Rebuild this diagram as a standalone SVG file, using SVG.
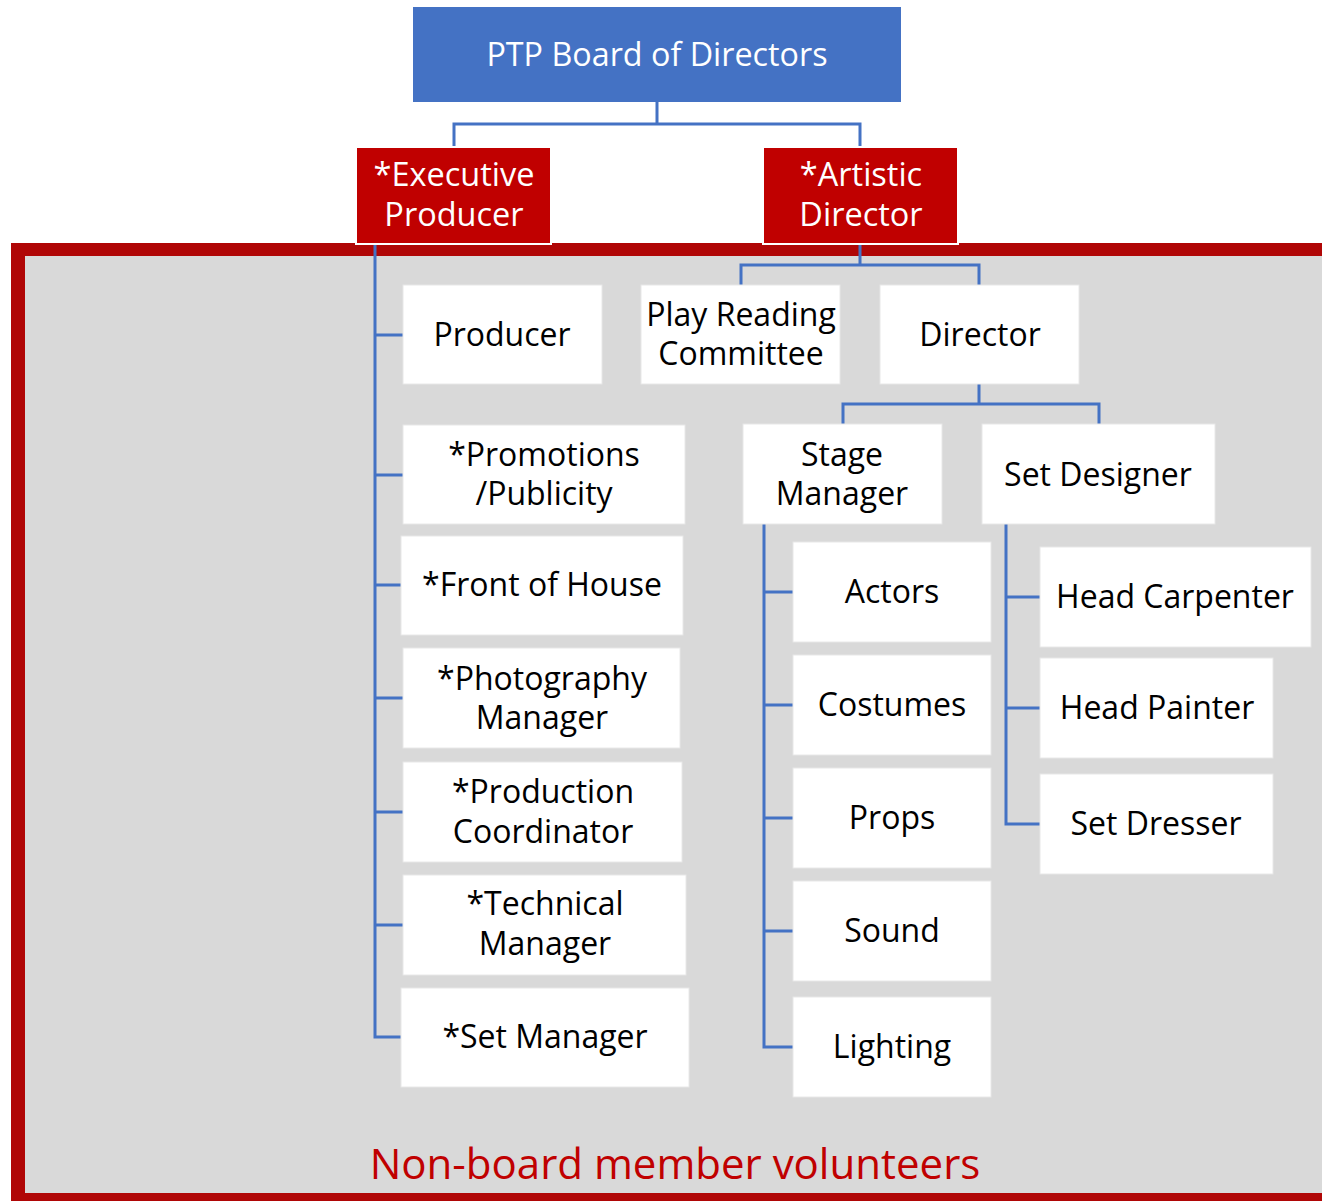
<svg xmlns="http://www.w3.org/2000/svg" width="1322" height="1201" viewBox="0 0 1322 1201">
<style>
text{font-family:"Open Sans","Noto Sans","DejaVu Sans",sans-serif;text-anchor:middle;}
.n rect{fill:#ffffff;stroke:#e8e8e8;stroke-width:1;}
.n text{font-size:32px;fill:#000;}
.r rect{fill:#C00000;stroke:#ffffff;stroke-width:2;}
.r text{font-size:32.5px;fill:#fff;}
.c{fill:none;stroke:#4472C4;stroke-width:3;}
</style>
<rect x="11" y="243" width="1320" height="958" fill="#B00606"/>
<rect x="25" y="256" width="1305" height="937" fill="#D9D9D9"/>
<text x="675" y="1179" font-size="42" fill="#C00000">Non-board member volunteers</text>
<g id="connectors" class="c">
<path d="M657,102 V124 M454,147 V124 H860 V147"/>
<path d="M375,244 V1037 H403 M375,335 H403 M375,475 H403 M375,585 H401 M375,698 H403 M375,812 H403 M375,925 H403"/>
<path d="M860,244 V265 M741,285 V265 H979 V285"/>
<path d="M979,384 V404 M843,424 V404 H1099 V424"/>
<path d="M764,524 V1047 H793 M764,592 H793 M764,705 H793 M764,818 H793 M764,931 H793"/>
<path d="M1006,524 V824 H1040 M1006,597 H1040 M1006,708 H1040"/>
</g>
<g id="board"><rect x="413" y="7" width="488" height="95" fill="#4472C4"/><text x="657" y="66" font-size="32.3" fill="#fff">PTP Board of Directors</text></g>
<g id="exec" class="r"><rect x="356" y="147" width="195" height="97"/><text x="454" y="186">*Executive</text><text x="454" y="226">Producer</text></g>
<g id="artistic" class="r"><rect x="763" y="147" width="195" height="97"/><text x="861" y="186">*Artistic</text><text x="861" y="226">Director</text></g>
<g id="producer" class="n"><rect x="403" y="285" width="199" height="99"/><text x="502" y="346">Producer</text></g>
<g id="playreading" class="n"><rect x="641" y="285" width="199" height="99"/><text x="741" y="326">Play Reading</text><text x="741" y="365">Committee</text></g>
<g id="director" class="n"><rect x="880" y="285" width="199" height="99"/><text x="980" y="346">Director</text></g>
<g id="promotions" class="n"><rect x="403" y="425" width="282" height="99"/><text x="544" y="466">*Promotions</text><text x="544" y="505">/Publicity</text></g>
<g id="foh" class="n"><rect x="401" y="536" width="282" height="99"/><text x="542" y="596">*Front of House</text></g>
<g id="photography" class="n"><rect x="403" y="648" width="277" height="100"/><text x="542" y="690">*Photography</text><text x="542" y="729">Manager</text></g>
<g id="production" class="n"><rect x="403" y="762" width="279" height="100"/><text x="543" y="803">*Production</text><text x="543" y="843">Coordinator</text></g>
<g id="technical" class="n"><rect x="403" y="875" width="283" height="100"/><text x="545" y="915">*Technical</text><text x="545" y="955">Manager</text></g>
<g id="setmanager" class="n"><rect x="401" y="988" width="288" height="99"/><text x="545" y="1048">*Set Manager</text></g>
<g id="stagemanager" class="n"><rect x="743" y="424" width="199" height="100"/><text x="842" y="466">Stage</text><text x="842" y="505">Manager</text></g>
<g id="setdesigner" class="n"><rect x="982" y="424" width="233" height="100"/><text x="1098" y="486">Set Designer</text></g>
<g id="actors" class="n"><rect x="793" y="542" width="198" height="100"/><text x="892" y="603">Actors</text></g>
<g id="costumes" class="n"><rect x="793" y="655" width="198" height="100"/><text x="892" y="716">Costumes</text></g>
<g id="props" class="n"><rect x="793" y="768" width="198" height="100"/><text x="892" y="829">Props</text></g>
<g id="sound" class="n"><rect x="793" y="881" width="198" height="100"/><text x="892" y="942">Sound</text></g>
<g id="lighting" class="n"><rect x="793" y="997" width="198" height="100"/><text x="892" y="1058">Lighting</text></g>
<g id="headcarpenter" class="n"><rect x="1040" y="547" width="271" height="100"/><text x="1175" y="608">Head Carpenter</text></g>
<g id="headpainter" class="n"><rect x="1040" y="658" width="233" height="100"/><text x="1157" y="719">Head Painter</text></g>
<g id="setdresser" class="n"><rect x="1040" y="774" width="233" height="100"/><text x="1156" y="835">Set Dresser</text></g>
</svg>
